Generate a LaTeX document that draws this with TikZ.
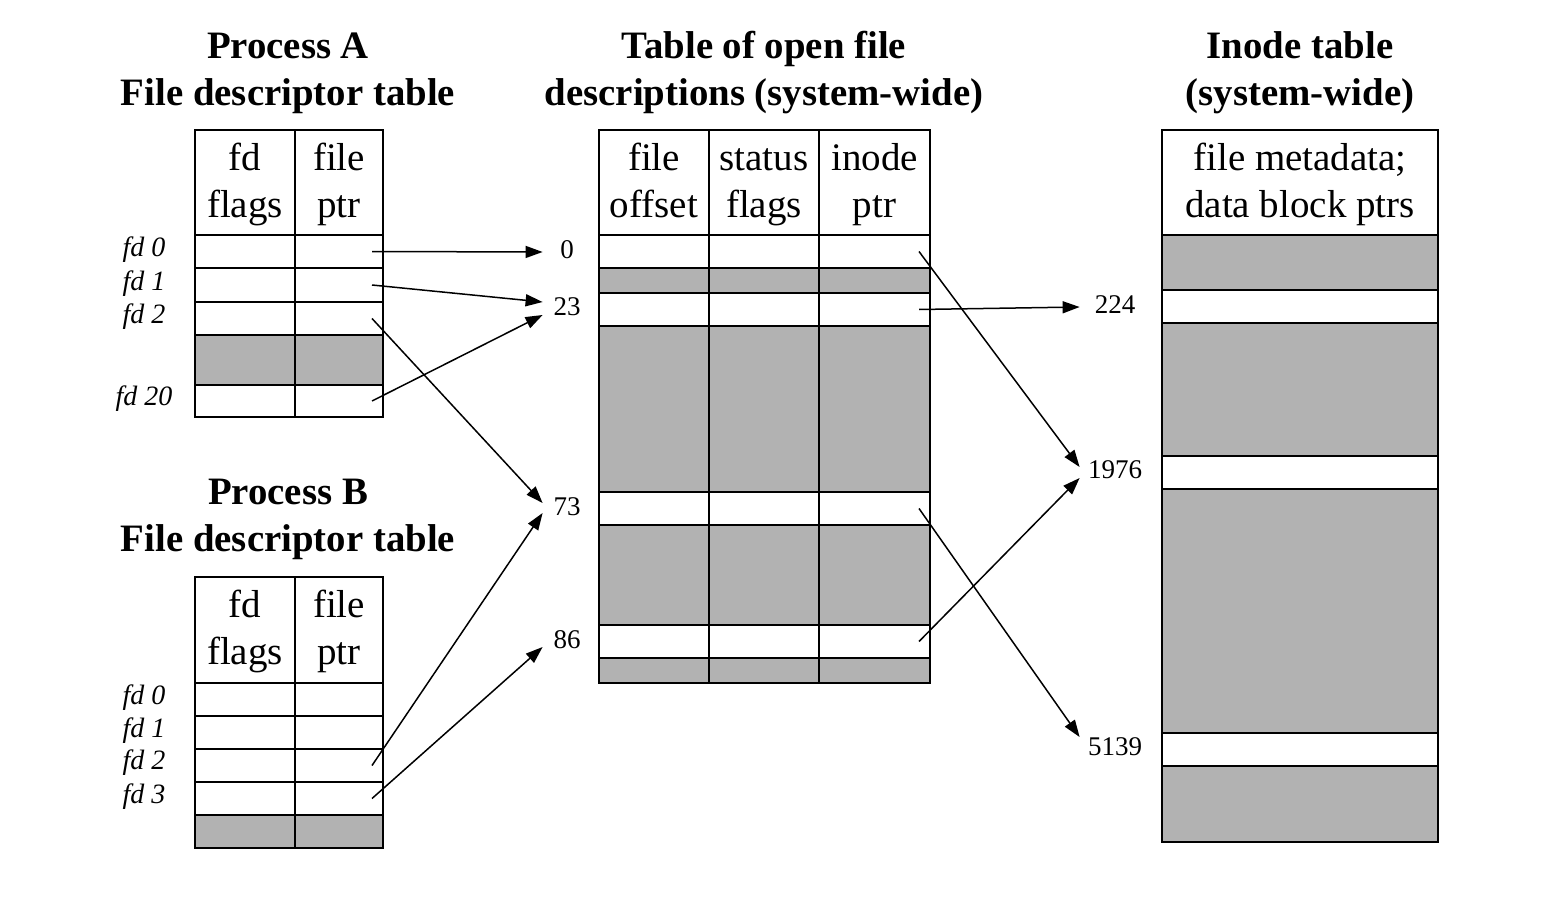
\documentclass[tikz,border=0pt]{standalone}
\usepackage{fontspec}
\setmainfont{Liberation Serif}
\usetikzlibrary{arrows.meta}
\newcommand\headstrut{\rule[-5.5pt]{0pt}{22pt}}
\newcommand\twolines[2]{\headstrut#1\\#2\headstrut}
\tikzset{
cell/.style={ % one box of a table
draw, line width=0.75pt, inner sep=0pt, outer sep=0pt,
anchor=north west, align=center,
font=\fontsize{19.5}{23.5}\selectfont},
used/.style={cell, fill=white},
free/.style={cell, fill=black!30}, % unused slots
head/.style={used, minimum height=52.5pt},
title/.style={align=center, font=\fontsize{19.4}{23.5}\selectfont\bfseries},
fdlabel/.style={font=\fontsize{14}{16}\selectfont\itshape},
numlabel/.style={inner sep=0pt, minimum width=24pt,
font=\fontsize{13.5}{16}\selectfont},
ptr/.style={ % pointer arrows
-{Triangle[length=8.5pt,width=6pt]}, line width=0.75pt}}

\begin{document}
\begin{tikzpicture}[x=0.5pt, y=-0.5pt]
\useasboundingbox (0,0) rectangle (1556,920);
% titles
\node[title] (tA) at (288,73) {Process A\\File descriptor table};
\node[title] (tB) at (288,519) {Process B\\File descriptor table};
\node[title] (tM) at (764,73) {Table of open file\\descriptions (system-wide)};
\node[title] (tI) at (1300,73) {Inode table\\(system-wide)};
% process A
\node[head, minimum width=50pt] (Ah-f) at (195,130) {\twolines{fd}{flags}};
\node[head, minimum width=44pt] (Ah-p) at (295,130) {\twolines{file}{ptr}};
\foreach \ya/\yb/\s/\n in {235/268/used/0, 268/302/used/1, 302/335/used/2,
  335/385/free/x, 385/417/used/20} {
\node[\s, minimum width=50pt, minimum height={(\yb-\ya)*0.5pt}] (A\n-f) at (195,\ya) {};
\node[\s, minimum width=44pt, minimum height={(\yb-\ya)*0.5pt}] (A\n-p) at (295,\ya) {};
}
\node[fdlabel] (lA0) at (144,250) {fd 0};
\node[fdlabel] (lA1) at (144,284) {fd 1};
\node[fdlabel] (lA2) at (144,317) {fd 2};
\node[fdlabel] (lA20) at (144,399) {fd 20};
% process B
\node[head, minimum width=50pt, minimum height=53pt] (Bh-f) at (195,577) {\twolines{fd}{flags}};
\node[head, minimum width=44pt, minimum height=53pt] (Bh-p) at (295,577) {\twolines{file}{ptr}};
\foreach \ya/\yb/\s/\n in {683/716/used/0, 716/749/used/1, 749/782/used/2,
  782/815/used/3, 815/848/free/x} {
\node[\s, minimum width=50pt, minimum height={(\yb-\ya)*0.5pt}] (B\n-f) at (195,\ya) {};
\node[\s, minimum width=44pt, minimum height={(\yb-\ya)*0.5pt}] (B\n-p) at (295,\ya) {};
}
\node[fdlabel] (lB0) at (144,698) {fd 0};
\node[fdlabel] (lB1) at (144,731) {fd 1};
\node[fdlabel] (lB2) at (144,763) {fd 2};
\node[fdlabel] (lB3) at (144,797) {fd 3};
% open file descriptions
\node[head, minimum width=55pt] (Mh-o) at (599,130) {\twolines{file}{offset}};
\node[head, minimum width=55pt] (Mh-s) at (709,130) {\twolines{status}{flags}};
\node[head, minimum width=55.5pt] (Mh-i) at (819,130) {\twolines{inode}{ptr}};
\foreach \ya/\yb/\s/\n in {235/268/used/0, 268/293/free/x1, 293/326/used/23,
  326/492/free/x2, 492/525/used/73, 525/625/free/x3, 625/658/used/86,
  658/683/free/x4} {
\node[\s, minimum width=55pt, minimum height={(\yb-\ya)*0.5pt}] (M\n-o) at (599,\ya) {};
\node[\s, minimum width=55pt, minimum height={(\yb-\ya)*0.5pt}] (M\n-s) at (709,\ya) {};
\node[\s, minimum width=55.5pt, minimum height={(\yb-\ya)*0.5pt}] (M\n-i) at (819,\ya) {};
}
\node[numlabel] (n0) at (567,250) {0};
\node[numlabel] (n23) at (567,307) {23};
\node[numlabel] (n73) at (567,507) {73};
\node[numlabel] (n86) at (567,640) {86};
% inode table
\node[head, minimum width=138pt] (Ih) at (1162,130) {\twolines{file metadata;}{data block ptrs}};
\foreach \ya/\yb/\s/\n in {235/290/free/x1, 290/323/used/224, 323/456/free/x2,
  456/489/used/1976, 489/733/free/x3, 733/766/used/5139, 766/842/free/x4} {
\node[\s, minimum width=138pt, minimum height={(\yb-\ya)*0.5pt}] (I\n) at (1162,\ya) {};
}
\node[numlabel, minimum width=35pt] (i224) at (1115,305) {224};
\node[numlabel, minimum width=35pt] (i1976) at (1115,470) {1976};
\node[numlabel, minimum width=35pt] (i5139) at (1115,747) {5139};
% pointers
\draw[ptr] ([xshift=-5.5pt]A0-p.east) -- ([yshift=-1pt]n0.west);
\draw[ptr] ([xshift=-5.5pt]A1-p.east) -- ([yshift=2.5pt]n23.west);
\draw[ptr] ([xshift=-5.5pt]A2-p.east) -- ([yshift=2pt]n73.west);
\draw[ptr] ([xshift=-5.5pt]A20-p.east) -- ([yshift=-4pt]n23.west);
\draw[ptr] ([xshift=-5.5pt]B2-p.east) -- ([yshift=-3pt]n73.west);
\draw[ptr] ([xshift=-5.5pt]B3-p.east) -- ([yshift=-3.5pt]n86.west);
\draw[ptr] ([xshift=-5.5pt]M0-i.east) -- ([yshift=1.5pt]i1976.west);
\draw[ptr] ([xshift=-5.5pt]M23-i.east) -- ([yshift=-1pt]i224.west);
\draw[ptr] ([xshift=-5.5pt]M73-i.east) -- ([yshift=5pt]i5139.west);
\draw[ptr] ([xshift=-5.5pt]M86-i.east) -- ([yshift=-4pt]i1976.west);
\end{tikzpicture}
\end{document}
